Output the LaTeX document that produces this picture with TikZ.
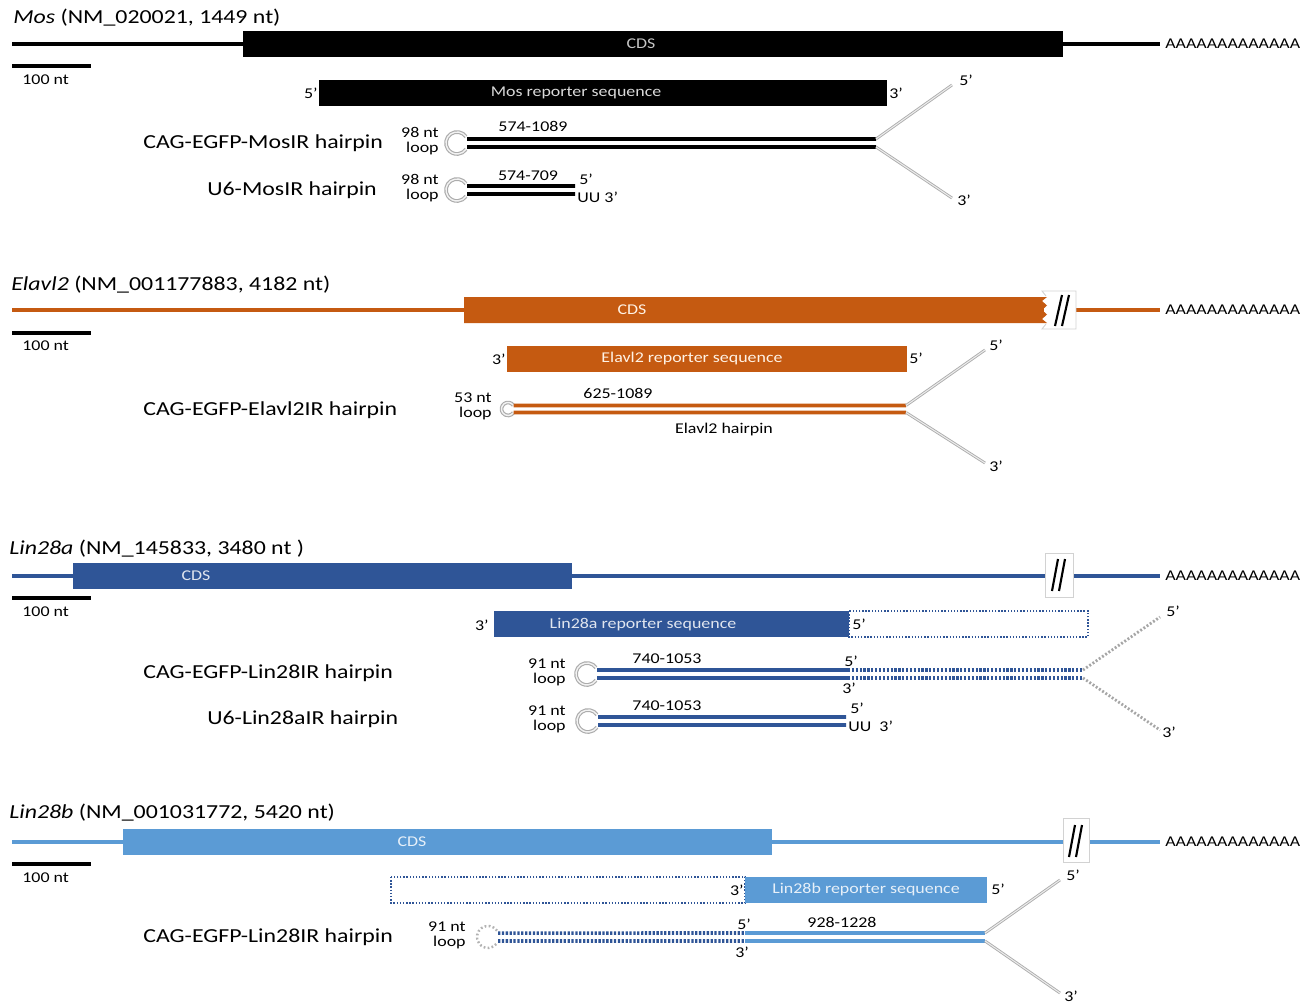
\documentclass[tikz,border=0pt]{standalone}
\usepackage{fontspec}
\setmainfont{Carlito}[FakeStretch=1.2]
\usetikzlibrary{positioning}
\definecolor{mosc}{HTML}{000000}
\definecolor{elavlc}{HTML}{C55A11}
\definecolor{lina}{HTML}{2F5597}
\definecolor{linb}{HTML}{5B9BD5}
\newcommand{\ttlfont}{\fontsize{11.3}{13}\selectfont}
\newcommand{\lblfont}{\fontsize{8.5}{8.6}\selectfont}

\begin{document}
\begin{tikzpicture}[x=0.02cm,y=-0.02cm,
  gtitle/.style={anchor=base west,inner sep=0pt,font=\ttlfont},
  hplabel/.style={anchor=west,inner sep=0pt,font=\ttlfont},
  lab/.style={inner sep=0pt,font=\lblfont},
  inbox/.style={inner sep=0pt,font=\lblfont},
  gene/.style={line width=2pt},
  strand/.style={line width=2pt},
  dstrand/.style={line width=2pt,dash pattern=on 1.3pt off 0.9pt},
  arm/.style={draw=gray!65,double=gray!15,double distance=0.6pt,line width=0.5pt},
  darm/.style={gray!70,line width=1.6pt,dash pattern=on 1.1pt off 1.1pt},
  ring/.style={draw=gray!65,double=gray!10,double distance=0.8pt,line width=0.65pt},
  dring/.style={gray!60,line width=1.4pt,dash pattern=on 1pt off 1.3pt},
  dotbox/.style={draw=lina,densely dotted,line width=0.8pt},
  brk/.style={draw=gray!35,line width=0.5pt},
  slash/.style={line width=1.2pt}]
\useasboundingbox (0,0) rectangle (1313,1004);

% Mos
\node[gtitle] (mos_title) at (13,24) {\textit{Mos} (NM\_020021, 1449 nt)};
\coordinate (mos_5) at (12,44);
\coordinate (mos_3) at (1160,44);
\draw[gene,mosc,line width=2.3pt] (mos_5) -- (mos_3);
\fill[mosc] (243,31) rectangle (1063,57);
\node[inbox,text=gray!45] (mos_cds) at (641,44) {CDS};
\node[lab,right=0.1cm of mos_3] (mos_polyA) {AAAAAAAAAAAAA};
\draw[line width=2.3pt] (12,66) -- (91,66);
\node[lab,anchor=west] (mos_nt) at (22,80) {100 nt};
\fill[mosc] (319,80) rectangle (887,106);
\node[inbox,text=gray!30] (mos_rep) at (576,93) {Mos reporter sequence};
\node[lab,anchor=east] (mos_rep5) at (318,93) {5’};
\node[lab,anchor=west] (mos_rep3) at (889,93) {3’};

\node[hplabel] (mos_cag) at (143,143) {CAG-EGFP-MosIR hairpin};
\node[lab,align=right,anchor=east] (mos_cagnt) at (439,141) {98 nt\\loop};
\coordinate (mos_cagloop) at (457,143);
\coordinate (mos_cagf1) at (876,139);
\coordinate (mos_cagf2) at (876,147);
\coordinate (mos_cag5) at (952,85);
\coordinate (mos_cag3) at (952,198);
\draw[ring] ([shift={(35:0.22cm)}]mos_cagloop) arc[start angle=35,end angle=325,radius=0.22cm];
\draw[strand,mosc] ([shift={(0.2cm,0.08cm)}]mos_cagloop) -- (mos_cagf1);
\draw[strand,mosc] ([shift={(0.2cm,-0.08cm)}]mos_cagloop) -- (mos_cagf2);
\draw[arm] (mos_cagf1) -- (mos_cag5);
\draw[arm] (mos_cagf2) -- (mos_cag3);
\node[lab,anchor=west] (mos_cagt5) at ([shift={(0.14cm,0.1cm)}]mos_cag5) {5’};
\node[lab,anchor=west] (mos_cagt3) at ([shift={(0.1cm,-0.04cm)}]mos_cag3) {3’};
\node[lab] (mos_cagnum) at (533,126) {574-1089};

\node[hplabel] (mos_u6) at (207,190) {U6-MosIR hairpin};
\node[lab,align=right,anchor=east] (mos_u6nt) at (439,188) {98 nt\\loop};
\coordinate (mos_u6loop) at (457,190);
\coordinate (mos_u6e1) at (575,186);
\coordinate (mos_u6e2) at (575,194);
\draw[ring] ([shift={(35:0.22cm)}]mos_u6loop) arc[start angle=35,end angle=325,radius=0.22cm];
\draw[strand,mosc] ([shift={(0.2cm,0.08cm)}]mos_u6loop) -- (mos_u6e1);
\draw[strand,mosc] ([shift={(0.2cm,-0.08cm)}]mos_u6loop) -- (mos_u6e2);
\node[lab] (mos_u6num) at (528,176) {574-709};
\node[lab,anchor=west] (mos_u65) at (579,179) {5’};
\node[lab,anchor=west] (mos_u63) at (577,197) {UU 3’};

% Elavl2
\node[gtitle] (elavl_title) at (11,290) {\textit{Elavl2} (NM\_001177883, 4182 nt)};
\coordinate (elavl_5) at (12,310);
\coordinate (elavl_3) at (1160,310);
\draw[gene,elavlc] (elavl_5) -- (elavl_3);
\fill[white] (1044,291) rectangle (1076,329);
\draw[brk] (1046,296) -- (1042,291) -- (1076,291) -- (1076,329) -- (1042,329) -- (1046,324);
\fill[elavlc] (464,297) -- (1047,297) -- (1042,301) -- (1047,305.5) -- (1042,310)
  -- (1047,314.5) -- (1042,319) -- (1047,323) -- (464,323) -- cycle;
\draw[slash] (1055,326) -- (1062,295) (1062,326) -- (1069,295);
\node[inbox,text=orange!10!white] (elavl_cds) at (632,310) {CDS};
\node[lab,right=0.1cm of elavl_3] (elavl_polyA) {AAAAAAAAAAAAA};
\draw[line width=2.3pt] (12,333) -- (91,333);
\node[lab,anchor=west] (elavl_nt) at (22,346) {100 nt};
\fill[elavlc] (507,346) rectangle (907,372);
\node[inbox,text=orange!10!white] (elavl_rep) at (692,359) {Elavl2 reporter sequence};
\node[lab,anchor=east] (elavl_rep3) at (506,359) {3’};
\node[lab,anchor=west] (elavl_rep5) at (909,358) {5’};

\node[hplabel] (elavl_cag) at (143,410) {CAG-EGFP-Elavl2IR hairpin};
\node[lab,align=right,anchor=east] (elavl_cagnt) at (492,406) {53 nt\\loop};
\coordinate (elavl_cagloop) at (508,409);
\coordinate (elavl_cagf1) at (906,405.5);
\coordinate (elavl_cagf2) at (906,412.5);
\coordinate (elavl_cag5) at (985,350);
\coordinate (elavl_cag3) at (985,463);
\draw[ring] ([shift={(35:0.13cm)}]elavl_cagloop) arc[start angle=35,end angle=325,radius=0.13cm];
\draw[strand,elavlc] ([shift={(0.11cm,0.07cm)}]elavl_cagloop) -- (elavl_cagf1);
\draw[strand,elavlc] ([shift={(0.11cm,-0.07cm)}]elavl_cagloop) -- (elavl_cagf2);
\draw[arm] (elavl_cagf1) -- (elavl_cag5);
\draw[arm] (elavl_cagf2) -- (elavl_cag3);
\node[lab,anchor=west] (elavl_cagt5) at ([shift={(0.08cm,0.1cm)}]elavl_cag5) {5’};
\node[lab,anchor=west] (elavl_cagt3) at ([shift={(0.08cm,-0.06cm)}]elavl_cag3) {3’};
\node[lab] (elavl_cagnum) at (618,393) {625-1089};
\node[lab] (elavl_caghp) at (724,430) {Elavl2 hairpin};

% Lin28a
\node[gtitle] (lina_title) at (9,554) {\textit{Lin28a} (NM\_145833, 3480 nt )};
\coordinate (lina_5) at (12,576);
\coordinate (lina_3) at (1160,576);
\draw[gene,lina] (lina_5) -- (lina_3);
\fill[lina] (73,563) rectangle (572,589);
\node[inbox,text=white!85!lina] (lina_cds) at (196,576) {CDS};
\filldraw[brk,fill=white] (1045,553) rectangle (1073,597);
\draw[slash] (1052,591) -- (1058,559) (1059,591) -- (1065,559);
\node[lab,right=0.1cm of lina_3] (lina_polyA) {AAAAAAAAAAAAA};
\draw[line width=2.3pt] (12,598) -- (91,598);
\node[lab,anchor=west] (lina_nt) at (22,612) {100 nt};
\fill[lina] (494,611) rectangle (849,637);
\draw[dotbox] (849,611) rectangle (1088,637);
\node[inbox,text=white!85!lina] (lina_rep) at (643,625) {Lin28a reporter sequence};
\node[lab,anchor=east] (lina_rep3) at (489,625) {3’};
\node[lab,anchor=west] (lina_rep5) at (852,624) {5’};

\node[hplabel] (lina_cag) at (143,673) {CAG-EGFP-Lin28IR hairpin};
\node[lab,align=right,anchor=east] (lina_cagnt) at (566,672) {91 nt\\loop};
\coordinate (lina_cagloop) at (587,674);
\coordinate (lina_cagm1) at (848,670);
\coordinate (lina_cagm2) at (848,678);
\coordinate (lina_cagf1) at (1083,670);
\coordinate (lina_cagf2) at (1083,678);
\coordinate (lina_cag5) at (1160,617);
\coordinate (lina_cag3) at (1160,730);
\draw[ring] ([shift={(35:0.22cm)}]lina_cagloop) arc[start angle=35,end angle=325,radius=0.22cm];
\draw[strand,lina] ([shift={(0.2cm,0.08cm)}]lina_cagloop) -- (lina_cagm1);
\draw[strand,lina] ([shift={(0.2cm,-0.08cm)}]lina_cagloop) -- (lina_cagm2);
\draw[dstrand,lina] (lina_cagm1) -- (lina_cagf1);
\draw[dstrand,lina] (lina_cagm2) -- (lina_cagf2);
\draw[darm] (lina_cagf1) -- (lina_cag5);
\draw[darm] (lina_cagf2) -- (lina_cag3);
\node[lab,anchor=west] (lina_cagm5) at (844,661) {5’};
\node[lab,anchor=west] (lina_cagm3) at (842,688) {3’};
\node[lab,anchor=west] (lina_cagt5) at ([shift={(0.12cm,0.12cm)}]lina_cag5) {5’};
\node[lab,anchor=west] (lina_cagt3) at ([shift={(0.04cm,-0.04cm)}]lina_cag3) {3’};
\node[lab] (lina_cagnum) at (667,659) {740-1053};

\node[hplabel] (lina_u6) at (207,719) {U6-Lin28aIR hairpin};
\node[lab,align=right,anchor=east] (lina_u6nt) at (566,719) {91 nt\\loop};
\coordinate (lina_u6loop) at (588,721);
\coordinate (lina_u6e1) at (846,717);
\coordinate (lina_u6e2) at (846,725);
\draw[ring] ([shift={(35:0.22cm)}]lina_u6loop) arc[start angle=35,end angle=325,radius=0.22cm];
\draw[strand,lina] ([shift={(0.2cm,0.08cm)}]lina_u6loop) -- (lina_u6e1);
\draw[strand,lina] ([shift={(0.2cm,-0.08cm)}]lina_u6loop) -- (lina_u6e2);
\node[lab] (lina_u6num) at (667,706) {740-1053};
\node[lab,anchor=west] (lina_u65) at (850,708) {5’};
\node[lab,anchor=west] (lina_u63) at (848,726) {UU~~3’};

% Lin28b
\node[gtitle] (linb_title) at (9,818) {\textit{Lin28b} (NM\_001031772, 5420 nt)};
\coordinate (linb_5) at (12,842);
\coordinate (linb_3) at (1160,842);
\draw[gene,linb] (linb_5) -- (linb_3);
\fill[linb] (123,829) rectangle (772,855);
\node[inbox,text=white!85!linb] (linb_cds) at (412,842) {CDS};
\filldraw[brk,fill=white] (1063,818) rectangle (1089,862);
\draw[slash] (1069,857) -- (1075,825) (1076,857) -- (1082,825);
\node[lab,right=0.1cm of linb_3] (linb_polyA) {AAAAAAAAAAAAA};
\draw[line width=2.3pt] (12,864) -- (91,864);
\node[lab,anchor=west] (linb_nt) at (22,878) {100 nt};
\draw[dotbox] (391,877) rectangle (745,903);
\fill[linb] (745,877) rectangle (987,903);
\node[inbox,text=white!85!linb] (linb_rep) at (866,890) {Lin28b reporter sequence};
\node[lab,anchor=east] (linb_rep3) at (744,890) {3’};
\node[lab,anchor=west] (linb_rep5) at (991,889) {5’};

\node[hplabel] (linb_cag) at (143,937) {CAG-EGFP-Lin28IR hairpin};
\node[lab,align=right,anchor=east] (linb_cagnt) at (466,935) {91 nt\\loop};
\coordinate (linb_cagloop) at (488,937);
\coordinate (linb_cagm1) at (745,933);
\coordinate (linb_cagm2) at (745,941);
\coordinate (linb_cagf1) at (985,933);
\coordinate (linb_cagf2) at (985,941);
\coordinate (linb_cag5) at (1060,880);
\coordinate (linb_cag3) at (1060,993);
\draw[dring] ([shift={(35:0.22cm)}]linb_cagloop) arc[start angle=35,end angle=325,radius=0.22cm];
\draw[dstrand,lina] ([shift={(0.2cm,0.08cm)}]linb_cagloop) -- (linb_cagm1);
\draw[dstrand,lina] ([shift={(0.2cm,-0.08cm)}]linb_cagloop) -- (linb_cagm2);
\draw[strand,linb] (linb_cagm1) -- (linb_cagf1);
\draw[strand,linb] (linb_cagm2) -- (linb_cagf2);
\draw[arm] (linb_cagf1) -- (linb_cag5);
\draw[arm] (linb_cagf2) -- (linb_cag3);
\node[lab,anchor=west] (linb_cagm5) at (737,924) {5’};
\node[lab,anchor=west] (linb_cagm3) at (735,952) {3’};
\node[lab,anchor=west] (linb_cagt5) at ([shift={(0.12cm,0.1cm)}]linb_cag5) {5’};
\node[lab,anchor=west] (linb_cagt3) at ([shift={(0.08cm,-0.06cm)}]linb_cag3) {3’};
\node[lab] (linb_cagnum) at (842,922) {928-1228};
\end{tikzpicture}
\end{document}
